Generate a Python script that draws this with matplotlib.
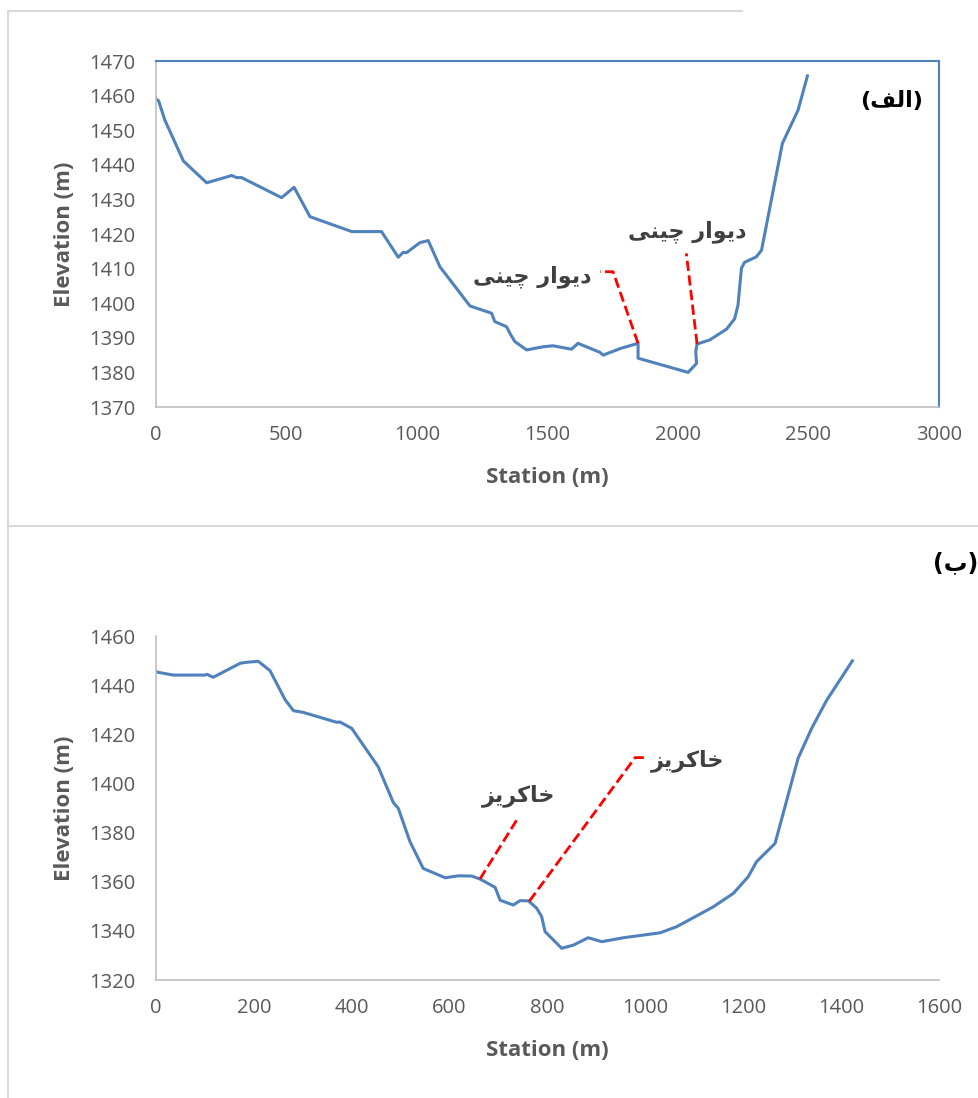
import matplotlib.pyplot as plt
from matplotlib.lines import Line2D

plt.rcParams['font.family'] = ['Open Sans', 'DejaVu Sans']

# --- profile (a) ---
station_a = [0, 10, 34, 105, 194, 290, 309, 328, 481, 529, 590, 750, 864, 928, 947,
             960, 1011, 1043, 1088, 1203, 1286, 1298, 1343, 1356, 1375, 1420, 1483,
             1521, 1592, 1617, 1701, 1713, 1783, 1847, 1847, 2039, 2071, 2068, 2073,
             2122, 2186, 2217, 2230, 2243, 2255, 2300, 2320, 2400, 2460, 2496]
elev_a = [1459, 1458.5, 1452.9, 1441.1, 1434.8, 1436.9, 1436.3, 1436.3, 1430.5,
          1433.5, 1425, 1420.7, 1420.7, 1413.3, 1414.7, 1414.6, 1417.5, 1418.1,
          1410.5, 1399.2, 1397.1, 1394.7, 1393.2, 1391.3, 1388.9, 1386.5, 1387.4,
          1387.7, 1386.7, 1388.4, 1385.8, 1385.0, 1387.0, 1388.4, 1384.1, 1380.0,
          1382.6, 1386.0, 1388.2, 1389.4, 1392.5, 1395.5, 1399.5, 1410.1, 1411.8,
          1413.4, 1415.3, 1446.2, 1455.8, 1465.7]

# --- profile (b) ---
station_b = [0, 5, 35, 100, 104, 117, 172, 185, 209, 233, 264, 281, 301, 369, 376,
             400, 454, 485, 495, 519, 546, 591, 618, 645, 662, 693, 703, 730, 744,
             761, 778, 788, 795, 829, 853, 883, 911, 955, 1030, 1064, 1139, 1180,
             1210, 1227, 1265, 1312, 1340, 1370, 1423]
elev_b = [1445.5, 1445.2, 1444.1, 1444.1, 1444.4, 1443.2, 1448.9, 1449.3, 1449.7,
          1445.9, 1434, 1429.6, 1428.9, 1424.9, 1425, 1422.4, 1406.8, 1392.2,
          1389.9, 1376.3, 1365.4, 1361.6, 1362.4, 1362.3, 1361.1, 1357.7, 1352.5,
          1350.5, 1352.3, 1352.2, 1349.2, 1345.8, 1339.7, 1332.9, 1334.2, 1337.2,
          1335.6, 1337.2, 1339.2, 1341.7, 1349.8, 1355.3, 1362, 1368.1, 1375.6,
          1410.2, 1422.5, 1433.7, 1449.9]

# pre-shaped (visual order) Persian labels
label_wall = '\uFBFD\uFEE8\uFBFF\uFB7C \uFEAD\uFE8D\uFEEE\uFBFE\uFEA9'   # دیوار چینی
label_trench = '\uFEB0\uFBFE\uFEAE\uFB90\uFE8E\uFEA7'                     # خاکریز
label_a = '(\uFED2\uFEDF\uFE8D)'                                          # (الف)
label_b = '(\uFE8F)'                                                      # (ب)

blue = '#4f81bd'
grey = '#595959'
axis_grey = '#bfbfbf'
fw, fh = 979, 1098

fig = plt.figure(figsize=(fw / 100, fh / 100), dpi=100)

# outer frames of the two chart boxes
for x0, y0, x1, y1 in [(8, 11, 742, 11), (8, 11, 8, 1098), (8, 526, 979, 526)]:
    fig.add_artist(Line2D([x0 / fw, x1 / fw], [1 - y0 / fh, 1 - y1 / fh],
                          color='#d9d9d9', lw=1.5, transform=fig.transFigure))


def style_axes(ax):
    ax.tick_params(length=0, labelsize=14.5, labelcolor=grey)
    ax.tick_params(axis='x', pad=13)
    ax.tick_params(axis='y', pad=15)
    for s in ['left', 'bottom']:
        ax.spines[s].set_color(axis_grey)
        ax.spines[s].set_linewidth(1.2)
    ax.set_xlabel('Station (m)', fontsize=16, fontweight='bold', color=grey, labelpad=16)
    ax.set_ylabel('Elevation (m)', fontsize=16, fontweight='bold', color=grey, labelpad=10)


# top chart
ax1 = fig.add_axes([156 / fw, 1 - 407 / fh, 783 / fw, 346 / fh])
ax1.plot(station_a, elev_a, color=blue, lw=2.2)
ax1.set_xlim(0, 3000)
ax1.set_ylim(1370, 1470)
ax1.set_xticks(range(0, 3001, 500))
ax1.set_yticks(range(1370, 1471, 10))
style_axes(ax1)
for s in ['top', 'right']:
    ax1.spines[s].set_color(blue)
    ax1.spines[s].set_linewidth(1.5)

ax1.plot([1847, 1751, 1701], [1388.4, 1409.1, 1409.1], color='red', ls='--', lw=2)
ax1.plot([2073, 2032], [1388.2, 1414.4], color='red', ls='--', lw=2)
ax1.text(1670, 1407.8, label_wall, fontsize=16, fontweight='bold', color='#404040',
         ha='right', va='center', family='DejaVu Sans')
ax1.text(2037, 1420.6, label_wall, fontsize=16, fontweight='bold', color='#404040',
         ha='center', va='center', family='DejaVu Sans')
fig.text(892 / fw, 1 - 101 / fh, label_a, fontsize=16, fontweight='bold', color='black',
         ha='center', va='center', family='DejaVu Sans')

# bottom chart
ax2 = fig.add_axes([156 / fw, 1 - 980 / fh, 783 / fw, 344 / fh])
ax2.plot(station_b, elev_b, color=blue, lw=2.2)
ax2.set_xlim(0, 1600)
ax2.set_ylim(1320, 1460)
ax2.set_xticks(range(0, 1601, 200))
ax2.set_yticks(range(1320, 1461, 20))
style_axes(ax2)
for s in ['top', 'right']:
    ax2.spines[s].set_visible(False)

ax2.plot([662, 738], [1361.1, 1385.4], color='red', ls='--', lw=2)
ax2.plot([763, 979, 1001], [1352.1, 1410.5, 1410.5], color='red', ls='--', lw=2)
ax2.text(740, 1394.9, label_trench, fontsize=16, fontweight='bold', color='#404040',
         ha='center', va='center', family='DejaVu Sans')
ax2.text(1086, 1409.1, label_trench, fontsize=16, fontweight='bold', color='#404040',
         ha='center', va='center', family='DejaVu Sans')
fig.text(956 / fw, 1 - 563 / fh, label_b, fontsize=17, fontweight='bold', color='black',
         ha='center', va='center', family='DejaVu Sans')

fig.savefig('out.png', dpi=100)
